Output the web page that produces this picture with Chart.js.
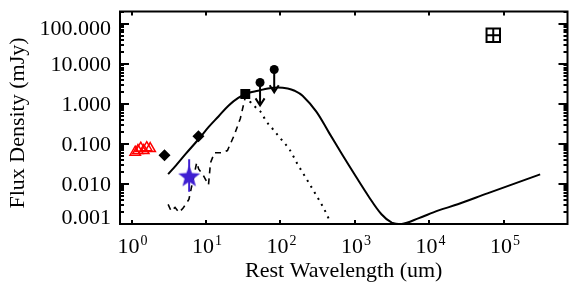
<!DOCTYPE html>
<html>
<head>
<meta charset="utf-8">
<script src="https://cdn.jsdelivr.net/npm/chart.js@4.4.1/dist/chart.umd.min.js"></script>
<style>
  html, body { margin: 0; padding: 0; background: #fff; }
</style>
</head>
<body>
<canvas id="sed" width="579" height="288"></canvas>
<script>
// total model (solid)
const totalWave = [3.10, 3.96, 5.37, 7.99, 10.8, 14.7, 20.0, 27.1, 36.7, 50.0, 67.9, 92.2, 125, 155, 198, 303, 452, 674, 1040, 1535, 2270, 3127, 4250, 7080, 13000, 24000, 60100, 307000];
const totalFlux = [0.0175, 0.0291, 0.057, 0.132, 0.26, 0.482, 0.894, 1.40, 1.85, 2.11, 2.41, 2.55, 2.41, 2.11, 1.59, 0.638, 0.185, 0.054, 0.0148, 0.0048, 0.00175, 0.00108, 0.00100, 0.00138, 0.00215, 0.0031, 0.0058, 0.0173];

// spectrum (dashed)
const specWave = [3.10, 3.40, 3.84, 4.34, 4.90, 5.89, 7.5, 7.99, 9.02, 10.8, 11.5, 13.0, 16.6, 19.4, 24.0, 28.9, 33.7];
const specFlux = [0.0031, 0.0021, 0.0026, 0.00195, 0.00246, 0.0041, 0.034, 0.0233, 0.0175, 0.0095, 0.034, 0.060, 0.060, 0.068, 0.166, 0.43, 1.45];

// warm dust component (dotted)
const warmWave = [33.7, 39.1, 48.5, 56.6, 62, 79, 104, 133, 170, 224, 294, 386, 466];
const warmFlux = [1.57, 1.12, 0.755, 0.57, 0.407, 0.232, 0.125, 0.071, 0.0308, 0.0133, 0.0057, 0.00235, 0.00112];

// photometry
const nirWave = [1.12, 1.22, 1.33, 1.46, 1.60, 1.78];
const nirFlux = [0.062, 0.068, 0.078, 0.068, 0.080, 0.076];
const detWave = [2.77, 7.92];
const detFlux = [0.052, 0.154];
const mirWave = [33.7];
const mirFlux = [1.75];
const limWave = [53.2, 82.4];
const limFlux = [3.38, 7.14];
const limTip = [0.91, 1.93];
const starWave = [5.94];
const starFlux = [0.0157];
const starHi = [0.041];
const starLo = [0.0064];
const symWave = [72000];
const symFlux = [51];

// axes
const xMin = 0.737, xMax = 7.15e5;
const yMin = 0.001, yMax = 200;
const xTickExp = [0, 1, 2, 3, 4, 5];
const yTickValues = [0.001, 0.01, 0.1, 1, 10, 100];
const yTickLabels = ['0.001', '0.010', '0.100', '1.000', '10.000', '100.000'];
const xTitle = 'Rest Wavelength (um)';
const yTitle = 'Flux Density (mJy)';

const FONT = '"Liberation Serif", "Times New Roman", serif';
const pts = (xs, ys) => xs.map((x, i) => ({ x, y: ys[i] }));

function starImage(size, color) {
  const c = document.createElement('canvas');
  c.width = c.height = size;
  const g = c.getContext('2d');
  const R = size / 2, r = R * 0.42;
  g.beginPath();
  for (let i = 0; i < 10; i++) {
    const a = -Math.PI / 2 + i * Math.PI / 5;
    const d = i % 2 ? r : R;
    g.lineTo(R + d * Math.cos(a), R + 1 + d * Math.sin(a));
  }
  g.closePath();
  g.fillStyle = color;
  g.fill();
  return c;
}

const axesPlugin = {
  id: 'idlAxes',
  afterDatasetsDraw(chart) {
    const { ctx, chartArea: a, scales: { x, y } } = chart;
    ctx.save();
    ctx.strokeStyle = '#000';
    ctx.fillStyle = '#000';
    ctx.lineWidth = 2;

    // upper limit arrows
    limWave.forEach((w, i) => {
      const px = x.getPixelForValue(w);
      const top = y.getPixelForValue(limFlux[i]);
      const tip = y.getPixelForValue(limTip[i]);
      ctx.beginPath();
      ctx.moveTo(px, top);
      ctx.lineTo(px, tip);
      ctx.moveTo(px - 4.5, tip - 7);
      ctx.lineTo(px, tip);
      ctx.lineTo(px + 4.5, tip - 7);
      ctx.stroke();
    });

    // frame
    ctx.strokeRect(a.left, a.top, a.right - a.left, a.bottom - a.top);

    // x ticks (top and bottom)
    ctx.beginPath();
    xTickExp.forEach(e => {
      const px = Math.round(x.getPixelForValue(Math.pow(10, e)));
      ctx.moveTo(px, a.bottom); ctx.lineTo(px, a.bottom - 4);
      ctx.moveTo(px, a.top); ctx.lineTo(px, a.top + 4);
    });
    ctx.stroke();

    // y ticks, major and minor (left and right)
    ctx.beginPath();
    yTickValues.forEach(v => {
      for (let m = 1; m <= 9; m++) {
        const val = v * m;
        if (val > yMax) break;
        const py = Math.round(y.getPixelForValue(val));
        const len = m === 1 ? 9 : 4;
        ctx.moveTo(a.left, py); ctx.lineTo(a.left + len, py);
        ctx.moveTo(a.right, py); ctx.lineTo(a.right - len, py);
      }
    });
    ctx.stroke();

    // y tick labels
    ctx.font = '22px ' + FONT;
    ctx.textAlign = 'right';
    ctx.textBaseline = 'alphabetic';
    yTickValues.forEach((v, i) => {
      const py = y.getPixelForValue(v) + 7;
      ctx.fillText(yTickLabels[i], a.left - 9, Math.min(Math.max(py, a.top + 23), a.bottom));
    });

    // x tick labels 10^n
    ctx.textAlign = 'left';
    xTickExp.forEach(e => {
      const px = x.getPixelForValue(Math.pow(10, e));
      ctx.font = '22px ' + FONT;
      const w1 = ctx.measureText('10').width;
      ctx.font = '14px ' + FONT;
      const w2 = ctx.measureText(String(e)).width;
      const left = px - (w1 + w2 + 1) / 2 + 1;
      ctx.font = '22px ' + FONT;
      ctx.fillText('10', left, 253);
      ctx.font = '14px ' + FONT;
      ctx.fillText(String(e), left + w1 + 1, 245);
    });

    // axis titles
    ctx.font = '22px ' + FONT;
    ctx.textAlign = 'center';
    ctx.fillText(xTitle, (a.left + a.right) / 2, 277);
    ctx.translate(24, 123);
    ctx.rotate(-Math.PI / 2);
    ctx.fillText(yTitle, 0, 0);
    ctx.restore();
  }
};

const starErr = starWave.map((w, i) => [{ x: w, y: starLo[i] }, { x: w, y: starHi[i] }]).flat();

new Chart(document.getElementById('sed'), {
  type: 'scatter',
  data: {
    datasets: [
      { data: pts(symWave, symFlux), pointStyle: 'rect', pointRadius: 9.5, borderColor: '#000', backgroundColor: 'transparent', borderWidth: 2, order: 0 },
      { data: pts(symWave, symFlux), pointStyle: 'cross', pointRadius: 6.5, borderColor: '#000', borderWidth: 2, order: 0 },
      { data: pts(starWave, starFlux), pointStyle: starImage(23, '#3f1fd2'), order: 0 },
      { data: starErr, showLine: true, pointRadius: 0, borderColor: '#3f1fd2', borderWidth: 2, order: 1 },
      { data: pts(limWave, limFlux), pointStyle: 'circle', pointRadius: 4.5, backgroundColor: '#000', borderColor: '#000', borderWidth: 0, order: 0 },
      { data: pts(detWave, detFlux), pointStyle: 'rectRot', pointRadius: 6, backgroundColor: '#000', borderColor: '#000', borderWidth: 0, order: 0 },
      { data: pts(mirWave, mirFlux), pointStyle: 'rect', pointRadius: 7, backgroundColor: '#000', borderColor: '#000', borderWidth: 0, order: 0 },
      { data: pts(nirWave, nirFlux), pointStyle: 'triangle', pointRadius: 6, backgroundColor: 'transparent', borderColor: '#ff0000', borderWidth: 1.5, order: 0 },
      { data: pts(totalWave, totalFlux), showLine: true, pointRadius: 0, borderColor: '#000', borderWidth: 2, tension: 0.35, order: 2 },
      { data: pts(specWave, specFlux), showLine: true, pointRadius: 0, borderColor: '#000', borderWidth: 1.6, borderDash: [6, 5], order: 2 },
      { data: pts(warmWave, warmFlux), showLine: true, pointRadius: 0, borderColor: '#000', borderWidth: 2, borderDash: [2, 5], cubicInterpolationMode: 'monotone', order: 2 }
    ]
  },
  options: {
    responsive: false,
    animation: false,
    layout: { padding: { left: 120, right: 8, top: 5, bottom: 64 } },
    plugins: { legend: { display: false }, tooltip: { enabled: false } },
    scales: {
      x: { type: 'logarithmic', min: xMin, max: xMax, display: false },
      y: { type: 'logarithmic', min: yMin, max: yMax, display: false }
    }
  },
  plugins: [axesPlugin]
});
</script>
</body>
</html>
